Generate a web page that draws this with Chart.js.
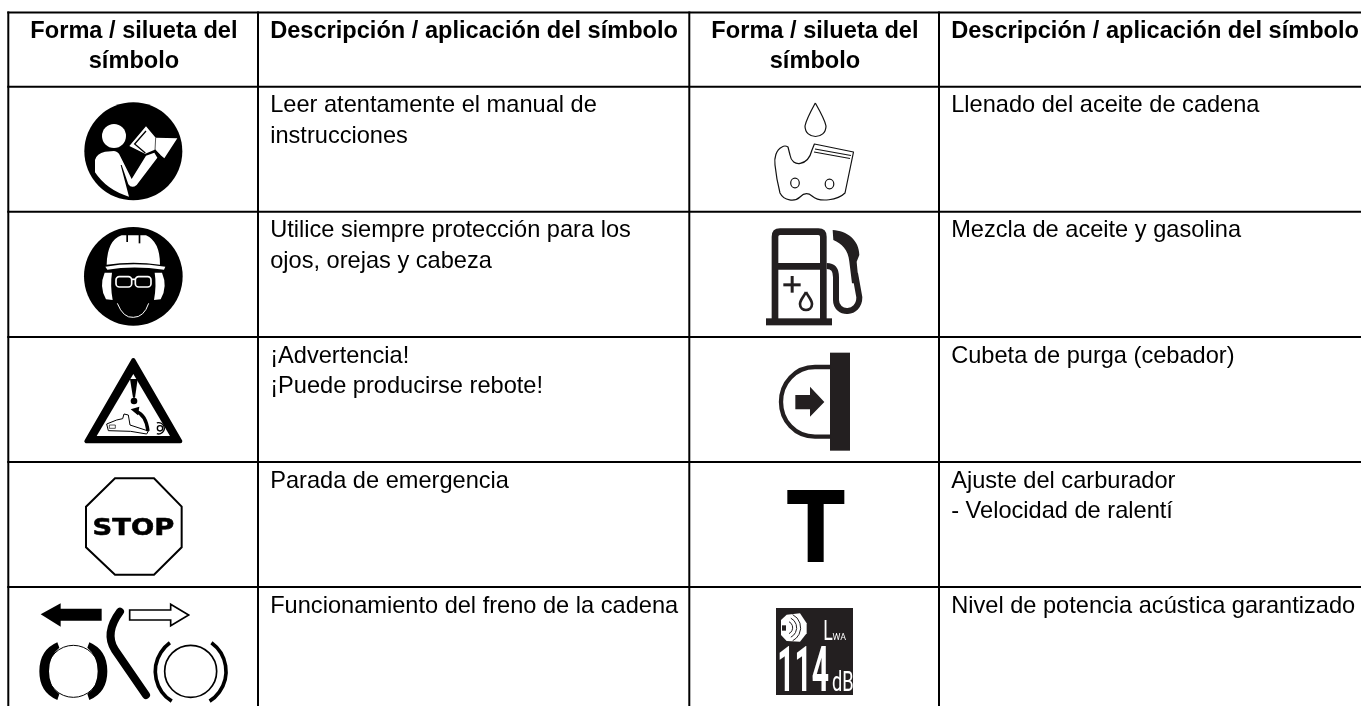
<!DOCTYPE html>
<html lang="es"><head><meta charset="utf-8">
<script src="https://cdn.jsdelivr.net/npm/chart.js@4/dist/chart.umd.min.js"></script>
<style>html,body{margin:0;padding:0;background:#fff}canvas{display:block}</style></head>
<body><canvas id="c" width="1361" height="706"></canvas>
<script>
const columnEdges = [8.3, 258, 689.3, 939];
const rowEdges = [12.5, 86.7, 211.7, 337, 462, 587, 706];
const headerSymbol = ["Forma / silueta del", "símbolo"];
const headerDescription = ["Descripción / aplicación del símbolo"];
const leftDescriptions = [
  ["Leer atentamente el manual de", "instrucciones"],
  ["Utilice siempre protección para los", "ojos, orejas y cabeza"],
  ["¡Advertencia!", "¡Puede producirse rebote!"],
  ["Parada de emergencia"],
  ["Funcionamiento del freno de la cadena"]
];
const rightDescriptions = [
  ["Llenado del aceite de cadena"],
  ["Mezcla de aceite y gasolina"],
  ["Cubeta de purga (cebador)"],
  ["Ajuste del carburador", "- Velocidad de ralentí"],
  ["Nivel de potencia acústica garantizado"]
];
const stopLabel = "STOP", levelLabel = "114", levelUnit = "dB", levelName = "L", levelSub = "WA";

const K = "#000", D = "#231f20", W = "#fff";
function path(c, pts, close = true) { c.beginPath(); pts.forEach((p, i) => i ? c.lineTo(p[0], p[1]) : c.moveTo(p[0], p[1])); if (close) c.closePath(); }
function fillP(c, pts, col) { path(c, pts); c.fillStyle = col; c.fill(); }
function fitText(c, s, x0, y0, x1, y1, font, col, heavy = 0) {
  c.save(); c.font = font; c.fillStyle = col; c.strokeStyle = col; c.lineJoin = "round"; c.textBaseline = "alphabetic"; c.textAlign = "left";
  const m = c.measureText(s);
  const w = m.actualBoundingBoxRight + m.actualBoundingBoxLeft, h = m.actualBoundingBoxAscent + m.actualBoundingBoxDescent;
  c.translate(x0, y0); c.scale((x1 - x0) / w, (y1 - y0) / h);
  c.fillText(s, m.actualBoundingBoxLeft, m.actualBoundingBoxAscent);
  if (heavy) { c.lineWidth = heavy; c.strokeText(s, m.actualBoundingBoxLeft, m.actualBoundingBoxAscent); }
  c.restore();
}
function local(c, ox, oy, fn) { c.save(); c.translate(ox, oy); c.scale(1 / 3, 1 / 3); fn(c); c.restore(); }

function iconRead(c) { local(c, 40, 85, c => {
  c.fillStyle = K; c.beginPath(); c.arc(280, 199, 147, 0, 7); c.fill();
  c.fillStyle = W; c.beginPath(); c.arc(222, 153, 36, 0, 7); c.fill();
  fillP(c, [[268, 183], [318, 124], [347, 158], [412, 160], [373, 220], [347, 198], [318, 208]], W);
  c.strokeStyle = K; c.lineWidth = 4; path(c, [[318, 138], [284, 177], [316, 204]], false); c.stroke();
  c.beginPath(); c.moveTo(347, 158); c.lineTo(345, 196); c.lineWidth = 2; c.stroke();
  c.lineWidth = 8; c.beginPath(); c.moveTo(312, 212); c.lineTo(345, 198); c.lineTo(358, 212); c.stroke();
  c.fillStyle = W;
  c.beginPath(); c.moveTo(165, 225); c.quadraticCurveTo(170, 205, 195, 200); c.lineTo(222, 198); c.quadraticCurveTo(235, 200, 240, 212);
  c.lineTo(275, 282); c.lineTo(318, 212); c.lineTo(343, 203); c.lineTo(352, 218); c.lineTo(290, 300); c.quadraticCurveTo(275, 312, 265, 298);
  c.lineTo(245, 240); c.lineTo(242, 240); c.lineTo(267, 335); c.quadraticCurveTo(200, 315, 165, 262); c.closePath(); c.fill();
} ); }

function iconHelmet(c) { local(c, 0, 230, c => {
  c.fillStyle = K; c.beginPath(); c.arc(400, 139, 148, 0, 7); c.fill();
  c.fillStyle = W; c.beginPath(); c.moveTo(320, 104); c.quadraticCurveTo(322, 30, 365, 16); c.lineTo(438, 16); c.quadraticCurveTo(480, 35, 480, 104); c.quadraticCurveTo(400, 92, 320, 104); c.fill();
  c.fillStyle = K; c.fillRect(379, 10, 5, 26); c.fillRect(416, 10, 5, 30);
  c.fillStyle = W; c.beginPath(); c.moveTo(316, 110); c.quadraticCurveTo(400, 96, 496, 110); c.lineTo(492, 119); c.quadraticCurveTo(400, 106, 322, 119); c.fill();
  c.beginPath(); c.moveTo(314, 128); c.quadraticCurveTo(296, 170, 318, 208); c.lineTo(338, 210); c.quadraticCurveTo(330, 165, 336, 128); c.fill();
  c.beginPath(); c.moveTo(486, 128); c.quadraticCurveTo(504, 170, 482, 208); c.lineTo(462, 210); c.quadraticCurveTo(470, 165, 464, 128); c.fill();
  c.strokeStyle = W; c.lineWidth = 5; c.beginPath(); c.roundRect(348, 140, 47, 31, 10); c.stroke(); c.beginPath(); c.roundRect(406, 140, 47, 31, 10); c.stroke();
  c.beginPath(); c.moveTo(395, 148); c.lineTo(406, 148); c.stroke();
  c.lineWidth = 3; c.beginPath(); c.moveTo(352, 220); c.quadraticCurveTo(370, 265, 400, 262); c.quadraticCurveTo(432, 262, 446, 220); c.stroke();
} ); }

function iconWarning(c) { local(c, 0, 230, c => {
  c.strokeStyle = K; c.fillStyle = K; c.lineWidth = 12; c.lineJoin = "round";
  path(c, [[400, 390], [259, 634], [541, 634]]); c.fill(); c.stroke();
  fillP(c, [[400, 432], [290, 618], [510, 618]], W);
  fillP(c, [[390, 447], [413, 447], [405, 503], [399, 503]], K);
  c.beginPath(); c.arc(402, 513, 10, 0, 7); c.fillStyle = K; c.fill();
  c.lineWidth = 3;
  path(c, [[320, 582], [350, 570], [368, 566], [372, 552], [385, 555], [390, 585], [445, 603], [440, 612], [392, 604], [325, 602]]); c.stroke();
  c.lineWidth = 2; c.beginPath(); c.rect(328, 585, 18, 10); c.stroke();
  c.lineWidth = 10; c.beginPath(); c.moveTo(444, 603); c.quadraticCurveTo(438, 555, 410, 545); c.stroke();
  fillP(c, [[392, 538], [418, 530], [414, 556]], K);
  c.lineWidth = 4; c.beginPath(); c.arc(476, 595, 17, -1.9, 1.9); c.stroke();
  c.beginPath(); c.arc(480, 595, 8, 0, 7); c.stroke();
} ); }

function iconStop(c) { local(c, 0, 470, c => {
  c.strokeStyle = K; c.lineWidth = 6; c.lineJoin = "miter";
  path(c, [[345, 25], [462, 25], [545, 110], [545, 232], [462, 314], [345, 314], [258, 232], [258, 110]]); c.stroke();
  fitText(c, stopLabel, 283, 145, 520, 197, "bold 60px 'DejaVu Sans'", K, 1.5);
} ); }

function iconBrake(c) { local(c, 0, 470, c => {
  fillP(c, [[122, 433], [182, 400], [182, 416], [305, 416], [305, 452], [182, 452], [182, 470]], K);
  c.strokeStyle = K; c.lineWidth = 5; path(c, [[389, 420], [512, 420], [512, 403], [566, 435], [512, 467], [512, 450], [389, 450]]); c.stroke();
  c.lineCap = "round"; c.lineJoin = "round"; c.lineWidth = 24;
  c.beginPath(); c.moveTo(360, 425); c.quadraticCurveTo(312, 490, 345, 540); c.lineTo(438, 675); c.stroke(); c.lineCap = "butt";
  c.fillStyle = K;
  c.beginPath(); c.moveTo(172, 517); c.quadraticCurveTo(118, 540, 118, 604); c.quadraticCurveTo(118, 668, 172, 690); c.lineTo(178, 672); c.quadraticCurveTo(147, 650, 147, 604); c.quadraticCurveTo(147, 558, 178, 533); c.fill();
  c.beginPath(); c.moveTo(268, 517); c.quadraticCurveTo(322, 540, 322, 604); c.quadraticCurveTo(322, 668, 268, 690); c.lineTo(262, 672); c.quadraticCurveTo(293, 650, 293, 604); c.quadraticCurveTo(293, 558, 262, 533); c.fill();
  c.lineWidth = 3; c.beginPath(); c.arc(220, 604, 78, 0, 7); c.stroke();
  c.lineWidth = 5; c.beginPath(); c.arc(572, 604, 78, 0, 7); c.stroke();
  c.lineWidth = 11; c.beginPath(); c.arc(572, 604, 106, Math.PI * 0.68, Math.PI * 1.3); c.stroke();
  c.beginPath(); c.arc(572, 604, 106, -Math.PI * 0.3, Math.PI * 0.32); c.stroke();
} ); }

function iconChain(c) {
  c.save(); c.strokeStyle = "#111"; c.lineWidth = 1.2; c.lineJoin = "round";
  c.beginPath(); c.moveTo(815.3, 103); c.quadraticCurveTo(806, 120, 805, 126); c.bezierCurveTo(805, 140, 826, 140, 826, 126); c.quadraticCurveTo(825, 120, 815.3, 103); c.stroke();
  c.beginPath(); c.moveTo(782, 147); c.bezierCurveTo(776, 150, 774, 158, 775, 165); c.bezierCurveTo(776, 175, 778, 185, 780, 193);
  c.bezierCurveTo(784, 201, 795, 202, 800, 197); c.quadraticCurveTo(806, 191, 812, 196); c.bezierCurveTo(820, 203, 838, 200, 845, 193);
  c.lineTo(853.5, 152); c.lineTo(814.4, 144); c.lineTo(812, 150); c.bezierCurveTo(808, 166, 792, 168, 790, 155); c.lineTo(788, 147); c.quadraticCurveTo(785, 145, 782, 147); c.stroke();
  c.beginPath(); c.moveTo(815, 149); c.lineTo(851, 155.5); c.moveTo(814, 152); c.lineTo(850, 158.5); c.stroke();
  c.beginPath(); c.ellipse(795, 183, 4.3, 4.8, 0, 0, 7); c.stroke();
  c.beginPath(); c.ellipse(829.5, 184, 4.3, 4.8, 0, 0, 7); c.stroke();
  c.restore();
}

function iconPump(c) { local(c, 700, 220, c => {
  c.strokeStyle = D; c.fillStyle = D; c.lineWidth = 20; c.lineJoin = "round";
  c.beginPath(); c.moveTo(225, 300); c.lineTo(225, 50); c.quadraticCurveTo(225, 35, 240, 35); c.lineTo(355, 35); c.quadraticCurveTo(370, 35, 370, 50); c.lineTo(370, 300); c.stroke();
  c.beginPath(); c.moveTo(225, 139); c.lineTo(370, 139); c.stroke();
  c.fillRect(198, 295, 198, 21);
  c.fillRect(250, 190, 52, 9); c.fillRect(272, 168, 9, 50);
  c.lineWidth = 8; c.beginPath(); c.moveTo(318, 216); c.bezierCurveTo(310, 232, 300, 240, 300, 252); c.bezierCurveTo(300, 276, 336, 276, 336, 252); c.bezierCurveTo(336, 240, 326, 232, 318, 216); c.stroke();
  c.lineWidth = 18; c.beginPath(); c.moveTo(380, 138); c.bezierCurveTo(400, 138, 408, 150, 408, 172); c.lineTo(408, 240); c.bezierCurveTo(408, 285, 478, 285, 478, 232); c.lineTo(465, 160); c.stroke();
  c.beginPath(); c.moveTo(398, 30); c.bezierCurveTo(440, 32, 478, 60, 478, 105); c.lineTo(470, 125); c.lineTo(476, 190); c.lineTo(456, 190); c.lineTo(448, 125); c.bezierCurveTo(445, 90, 425, 70, 400, 60); c.closePath(); c.fill();
} ); }

function iconPurge(c) { local(c, 700, 220, c => {
  c.fillStyle = D; c.strokeStyle = D; c.fillRect(390, 398, 60, 294);
  c.lineWidth = 13; c.beginPath(); c.moveTo(392, 441); c.lineTo(345, 441); c.bezierCurveTo(285, 441, 243, 490, 243, 546); c.bezierCurveTo(243, 602, 285, 650, 345, 650); c.lineTo(392, 650); c.stroke();
  fillP(c, [[286, 525], [330, 525], [330, 500], [373, 546], [330, 590], [330, 568], [286, 568]], D);
} ); }

function iconT(c) { local(c, 700, 460, c => {
  c.fillStyle = K; c.fillRect(262, 90, 171, 42); c.fillRect(323, 132, 48, 174);
} ); }

function iconLevel(c) { local(c, 700, 460, c => {
  c.fillStyle = D; c.fillRect(228, 444, 231, 261);
  fillP(c, [[243, 480], [260, 464], [300, 460], [320, 490], [320, 520], [300, 545], [260, 543], [243, 525]], W);
  c.strokeStyle = D; c.lineWidth = 3;
  [20, 32, 44].forEach(r => { c.beginPath(); c.arc(258, 503, r, -1.1, 1.1); c.stroke(); });
  c.fillStyle = D; c.fillRect(246, 496, 12, 16);
  fitText(c, levelName, 373, 483, 397, 540, "60px Roboto", W);
  fitText(c, levelSub, 398, 520, 438, 540, "60px Roboto", W);
  fitText(c, levelLabel, 238, 560, 385, 692, "bold 60px Roboto", W);
  fitText(c, levelUnit, 398, 632, 458, 695, "60px Roboto", W);
} ); }

const leftIcons = [iconRead, iconHelmet, iconWarning, iconStop, iconBrake];
const rightIcons = [iconChain, iconPump, iconPurge, iconT, iconLevel];

const tablePlugin = {
  id: "tablePlugin",
  afterDatasetsDraw(chart) {
    const c = chart.ctx, X = chart.scales.x, Y = chart.scales.y;
    function line(s, x, base, font, align) {
      c.save(); c.font = font; c.fillStyle = "#000"; c.textBaseline = "alphabetic"; c.textAlign = align;
      c.fillText(s, x, base); c.restore();
    }
    const bold = "bold 23.6px 'Liberation Sans'", reg = "23.6px 'Liberation Sans'";
    [0, 2].forEach(i => {
      const cx = X.getPixelForValue((columnEdges[i] + columnEdges[i + 1]) / 2 + 0.8);
      headerSymbol.forEach((s, k) => line(s, cx, Y.getPixelForValue(rowEdges[0] + 25.5 + k * 29.5), bold, "center"));
      line(headerDescription[0], X.getPixelForValue(columnEdges[i + 1] + 12.2), Y.getPixelForValue(rowEdges[0] + 25.7), bold, "left");
    });
    [[leftDescriptions, 1], [rightDescriptions, 3]].forEach(([rows, col]) => rows.forEach((r, ri) => r.forEach((s, k) =>
      line(s, X.getPixelForValue(columnEdges[col] + 12.2), Y.getPixelForValue(rowEdges[ri + 1] + 25.5 + k * 30.5), reg, "left"))));
    c.save(); c.beginPath(); c.rect(0, 0, chart.width, chart.height); c.clip();
    leftIcons.forEach(f => f(c)); rightIcons.forEach(f => f(c)); c.restore();
  }
};

const gridSets = [];
const right = 1361, bottom = rowEdges[rowEdges.length - 1];
rowEdges.slice(0, -1).forEach(y => gridSets.push({ data: [{ x: columnEdges[0], y }, { x: right, y }] }));
columnEdges.forEach(x => gridSets.push({ data: [{ x, y: rowEdges[0] }, { x, y: bottom }] }));
gridSets.forEach(d => Object.assign(d, { showLine: true, borderColor: "#000", borderWidth: 2, pointRadius: 0, fill: false, borderCapStyle: "square" }));

new Chart(document.getElementById("c"), {
  type: "scatter",
  data: { datasets: gridSets },
  options: {
    responsive: false, animation: false, devicePixelRatio: 1,
    layout: { padding: 0 },
    plugins: { legend: { display: false }, tooltip: { enabled: false }, title: { display: false } },
    scales: {
      x: { type: "linear", min: 0, max: 1361, display: false },
      y: { type: "linear", min: 0, max: 706, reverse: true, display: false }
    }
  },
  plugins: [tablePlugin]
});
</script></body></html>
